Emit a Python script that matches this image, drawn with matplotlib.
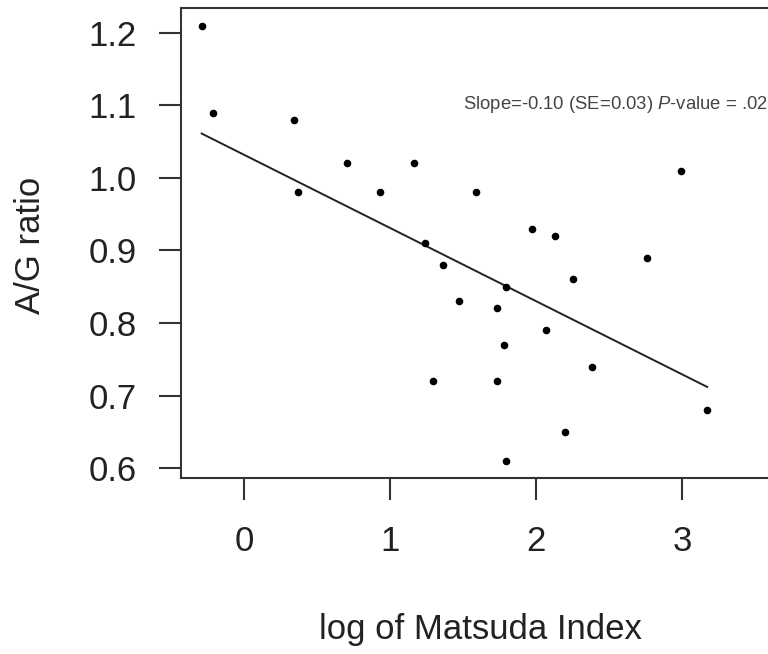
import numpy as np
import matplotlib
matplotlib.use("Agg")
import matplotlib.pyplot as plt

plt.rcParams['font.family'] = ['Liberation Sans', 'DejaVu Sans']
plt.rcParams['mathtext.fontset'] = 'custom'
plt.rcParams['mathtext.rm'] = 'Liberation Sans'
plt.rcParams['mathtext.it'] = 'Liberation Sans:italic'

# log of Matsuda Index vs A/G ratio
log_matsuda = [-0.29, -0.21, 0.34, 0.37, 0.705, 0.93, 1.16, 1.24, 1.59, 1.97,
               2.13, 2.99, 1.36, 1.47, 1.29, 1.73, 1.79, 1.78, 1.73, 2.07,
               2.25, 2.76, 2.38, 2.20, 1.79, 3.17]
ag_ratio = [1.21, 1.09, 1.08, 0.98, 1.02, 0.98, 1.02, 0.91, 0.98, 0.93,
            0.92, 1.01, 0.88, 0.83, 0.72, 0.82, 0.85, 0.77, 0.72, 0.79,
            0.86, 0.89, 0.74, 0.65, 0.61, 0.68]

# fitted line
fit_intercept = 1.032
fit_slope = -0.101

x_ticks = [0, 1, 2, 3]
y_ticks = [0.6, 0.7, 0.8, 0.9, 1.0, 1.1, 1.2]
annot = r"Slope=-0.10 (SE=0.03) $P$-value = .02"

fig = plt.figure(figsize=(7.68, 6.54), dpi=100)
ax = fig.add_axes([0.2357, 0.2691, 0.80, 0.7187])

ax.scatter(log_matsuda, ag_ratio, s=20, color='black', zorder=3)

xs = np.array([min(log_matsuda), max(log_matsuda)])
ax.plot(xs, fit_intercept + fit_slope * xs, color='#222222', lw=1.4)

ax.text(1.5, 1.101, annot, fontsize=13.3, color='#444444', ha='left', va='center')

ax.set_xlim(-0.4315, 3.774)
ax.set_ylim(0.5862, 1.2345)
ax.set_xticks(x_ticks)
ax.set_yticks(y_ticks)
ax.set_yticklabels([f"{v:.1f}" for v in y_ticks])

for s in ax.spines.values():
    s.set_linewidth(1.5)
    s.set_color('#333333')
ax.tick_params(axis='both', direction='out', length=16, width=1.5, color='#333333',
               labelsize=25, labelcolor='#222222')
ax.tick_params(axis='y', pad=16)
ax.tick_params(axis='x', pad=18)

fig.text(30 / 768, 1 - 245 / 654, "A/G ratio", rotation=90, fontsize=25,
         ha='center', va='center', color='#222222')
fig.text(480 / 768, 1 - 630 / 654, "log of Matsuda Index", fontsize=25,
         ha='center', va='center', color='#222222')

fig.savefig("out.png", dpi=100)
